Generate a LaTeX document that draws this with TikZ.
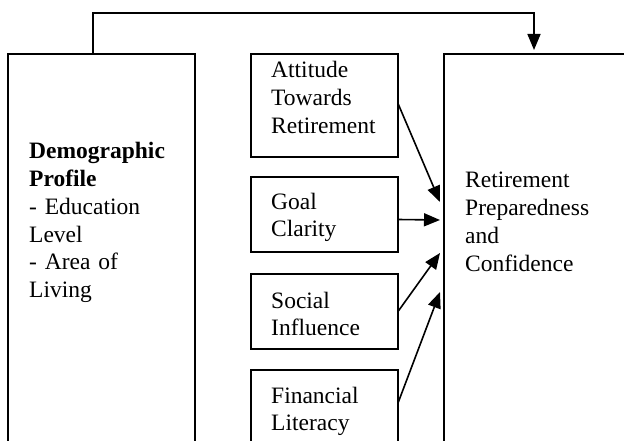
\documentclass[tikz,border=0pt]{standalone}
\usepackage{fontspec}
\setmainfont{Liberation Serif}
\usepackage{tikz}
\usetikzlibrary{arrows.meta,calc}

\tikzset{
box/.style={draw, line width=1.6pt, anchor=north west, inner sep=0pt, outer sep=0pt},
txt/.style={anchor=base west, inner sep=0pt, text width=#1, align=left, font=\fontsize{23.5}{27.7}\selectfont},
arr/.style={line width=1.6pt, -{Triangle[length=16pt,width=13pt]}}
}

\begin{document}
\begin{tikzpicture}[x=1pt,y=-1pt]
\useasboundingbox (0,0) rectangle (624,441);
\clip (0,0) rectangle (624,441);
\node[box, minimum width=187pt, minimum height=420pt] (demo) at (8,54) {};
\node[box, minimum width=147pt, minimum height=103pt] (att) at (251,54) {};
\node[box, minimum width=147pt, minimum height=75pt] (goal) at (251,177) {};
\node[box, minimum width=147pt, minimum height=75pt] (soc) at (251,274) {};
\node[box, minimum width=147pt, minimum height=100pt] (fin) at (251,370) {};
\node[box, minimum width=250pt, minimum height=420pt] (prep) at (444,54) {};
\node[txt=165pt] (demotext) at (29,159) {\textbf{Demographic}\\\textbf{Profile}\\- Education\\Level\\- Area of\\Living};
\node[txt=125pt] (atttext) at (271,78) {Attitude\\Towards\\Retirement};
\node[txt=125pt] (goaltext) at (271,209) {Goal\\Clarity};
\node[txt=125pt] (soctext) at (271,308) {Social\\Influence};
\node[txt=125pt] (fintext) at (271,403) {Financial\\Literacy};
\node[txt=155pt] (preptext) at (465,188) {Retirement\\Preparedness\\and\\Confidence};
\coordinate (t1) at (440,202);
\coordinate (t2) at (440,220);
\coordinate (t3) at (440,253);
\coordinate (t4) at (440,292);
\draw[arr] ($(demo.north west)+(85,0)$) |- ($(prep.north west)+(90,-41)$) -- ($(prep.north west)+(90,-4)$);
\draw[arr] ($(att.east)+(0,-2)$) -- (t1);
\draw[arr] ($(goal.east)+(0,5)$) -- (t2);
\draw[arr] (soc.east) -- (t3);
\draw[arr] ($(fin.north east)+(0,33)$) -- (t4);
\end{tikzpicture}
\end{document}
